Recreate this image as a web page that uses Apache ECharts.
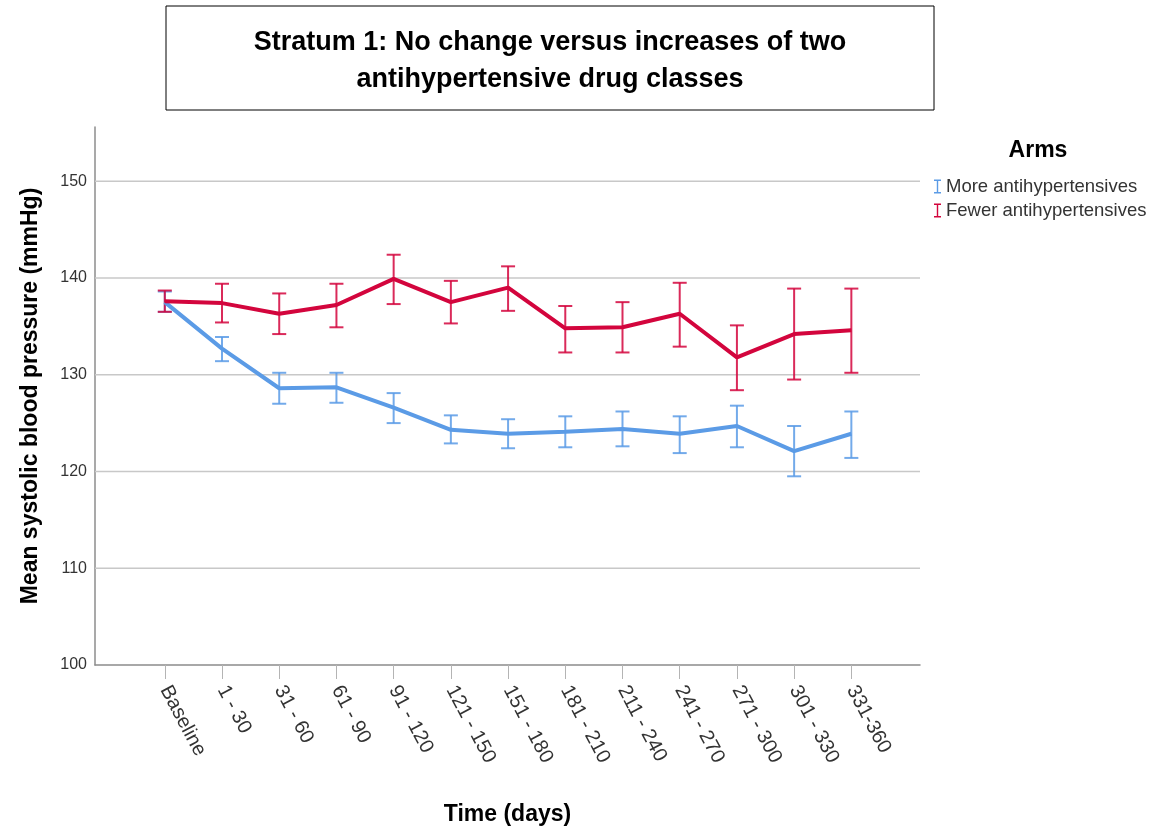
<!DOCTYPE html>
<html>
<head>
<meta charset="utf-8">
<script src="https://cdn.jsdelivr.net/npm/echarts@6/dist/echarts.min.js"></script>
<style>
  html, body { margin: 0; padding: 0; background: #fff; }
  #echarts { width: 1156px; height: 833px; }
</style>
</head>
<body>
<div id="echarts"></div>
<script>
// time periods (x categories)
const categories = ['Baseline', '1 - 30', '31 - 60', '61 - 90', '91 - 120', '121 - 150', '151 - 180',
  '181 - 210', '211 - 240', '241 - 270', '271 - 300', '301 - 330', '331-360']

// More antihypertensives: mean, lower, upper
const moreMean = [137.5, 132.7, 128.6, 128.7, 126.6, 124.3, 123.9, 124.1, 124.4, 123.9, 124.7, 122.1, 123.9]
const moreLow = [136.5, 131.4, 127.0, 127.1, 125.0, 122.9, 122.4, 122.5, 122.6, 121.9, 122.5, 119.5, 121.4]
const moreHigh = [138.6, 133.9, 130.2, 130.2, 128.1, 125.8, 125.4, 125.7, 126.2, 125.7, 126.8, 124.7, 126.2]

// Fewer antihypertensives: mean, lower, upper
const fewerMean = [137.6, 137.4, 136.3, 137.2, 139.9, 137.5, 139.0, 134.8, 134.9, 136.3, 131.8, 134.2, 134.6]
const fewerLow = [136.5, 135.4, 134.2, 134.9, 137.3, 135.3, 136.6, 132.3, 132.3, 132.9, 128.4, 129.5, 130.2]
const fewerHigh = [138.7, 139.4, 138.4, 139.4, 142.4, 139.7, 141.2, 137.1, 137.5, 139.5, 135.1, 138.9, 138.9]

// y axis ticks
const yTicks = [100, 110, 120, 130, 140, 150]

const BLUE = '#5b9be6'
const RED = '#d3053d'
const FONT = '"Liberation Sans", Arial, sans-serif'
const ICON = 'path://M0,0H8V1.6H4.8V14.4H8V16H0V14.4H3.2V1.6H0Z'
const X_MIN = -1.22
const X_MAX = 13.2

const idx = categories.map((c, i) => i)

// 误差线
function errorSeries(name, low, high, color) {
  return {
    type: 'custom',
    name: name,
    z: 2,
    silent: true,
    data: idx.map(i => [i, low[i], high[i]]),
    renderItem(params, api) {
      const x = api.value(0)
      const p1 = api.coord([x, api.value(1)])
      const p2 = api.coord([x, api.value(2)])
      const w = 7
      const style = { stroke: color, lineWidth: 2, opacity: 0.85 }
      return {
        type: 'group',
        children: [
          { type: 'line', shape: { x1: p1[0], y1: p1[1], x2: p2[0], y2: p2[1] }, style },
          { type: 'line', shape: { x1: p1[0] - w, y1: p1[1], x2: p1[0] + w, y2: p1[1] }, style },
          { type: 'line', shape: { x1: p2[0] - w, y1: p2[1], x2: p2[0] + w, y2: p2[1] }, style },
        ],
      }
    },
  }
}

function lineSeries(name, values, color) {
  return {
    type: 'line',
    name: name,
    z: 3,
    data: idx.map(i => [i, values[i]]),
    showSymbol: false,
    symbol: 'none',
    lineStyle: { color: color, width: 4 },
    itemStyle: { color: color },
  }
}

const chart = echarts.init(document.getElementById('echarts'))

chart.setOption({
  animation: false,
  textStyle: { fontFamily: FONT },
  grid: { left: 95, right: 236, top: 127, bottom: 168, outerBoundsMode: 'none', containLabel: false },
  graphic: [
    {
      type: 'rect',
      shape: { x: 166, y: 6, width: 768, height: 104 },
      style: { fill: '#fff', stroke: '#000', lineWidth: 1 },
    },
    {
      type: 'text',
      x: 550,
      y: 61,
      style: {
        text: 'Stratum 1: No change versus increases of two\nantihypertensive drug classes',
        font: 'bold 27px ' + FONT,
        fill: '#000',
        align: 'center',
        verticalAlign: 'middle',
        lineHeight: 37,
      },
    },
    {
      type: 'text',
      x: 1038,
      y: 151,
      style: {
        text: 'Arms',
        font: 'bold 23px ' + FONT,
        fill: '#000',
        align: 'center',
        verticalAlign: 'middle',
      },
    },
  ],
  legend: {
    orient: 'vertical',
    left: 929,
    top: 172,
    itemWidth: 7,
    itemHeight: 14,
    itemGap: 5,
    data: [
      { name: 'More antihypertensives', icon: ICON, itemStyle: { color: BLUE } },
      { name: 'Fewer antihypertensives', icon: ICON, itemStyle: { color: RED } },
    ],
    textStyle: { fontSize: 18.5, color: '#333', lineHeight: 19, fontFamily: FONT },
  },
  xAxis: {
    type: 'value',
    min: X_MIN,
    max: X_MAX,
    name: 'Time (days)',
    nameLocation: 'middle',
    nameGap: 138,
    nameTextStyle: { fontSize: 23, fontWeight: 'bold', color: '#000' },
    axisLine: { onZero: false, lineStyle: { color: '#8c8c8c', width: 1.5 } },
    axisTick: { show: true, length: 14, customValues: idx, lineStyle: { color: '#b4b4b4' } },
    axisLabel: {
      customValues: idx,
      formatter: v => categories[Math.round(v)] || '',
      rotate: -62,
      margin: 22,
      fontSize: 20,
      color: '#333',
    },
    splitLine: { show: false },
  },
  yAxis: {
    type: 'value',
    min: 100,
    max: 155.6,
    name: 'Mean systolic blood pressure (mmHg)',
    nameLocation: 'middle',
    nameGap: 53,
    nameTextStyle: { fontSize: 23, fontWeight: 'bold', color: '#000' },
    axisLine: { show: true, onZero: false, lineStyle: { color: '#8c8c8c', width: 1.5 } },
    axisTick: { show: false },
    axisLabel: {
      customValues: yTicks,
      fontSize: 16,
      color: '#333',
      margin: 8,
    },
    splitLine: { show: false },
  },
  series: [
    // 网格线
    {
      type: 'custom',
      silent: true,
      z: 1,
      data: yTicks.slice(1),
      renderItem(params, api) {
        const p = api.coord([X_MIN, api.value(0)])
        const q = api.coord([X_MAX, api.value(0)])
        return {
          type: 'line',
          shape: { x1: p[0], y1: p[1], x2: q[0], y2: q[1] },
          style: { stroke: '#c8c8c8', lineWidth: 1.5 },
        }
      },
    },
    errorSeries('More antihypertensives', moreLow, moreHigh, BLUE),
    errorSeries('Fewer antihypertensives', fewerLow, fewerHigh, RED),
    lineSeries('More antihypertensives', moreMean, BLUE),
    lineSeries('Fewer antihypertensives', fewerMean, RED),
  ],
})
</script>
</body>
</html>
